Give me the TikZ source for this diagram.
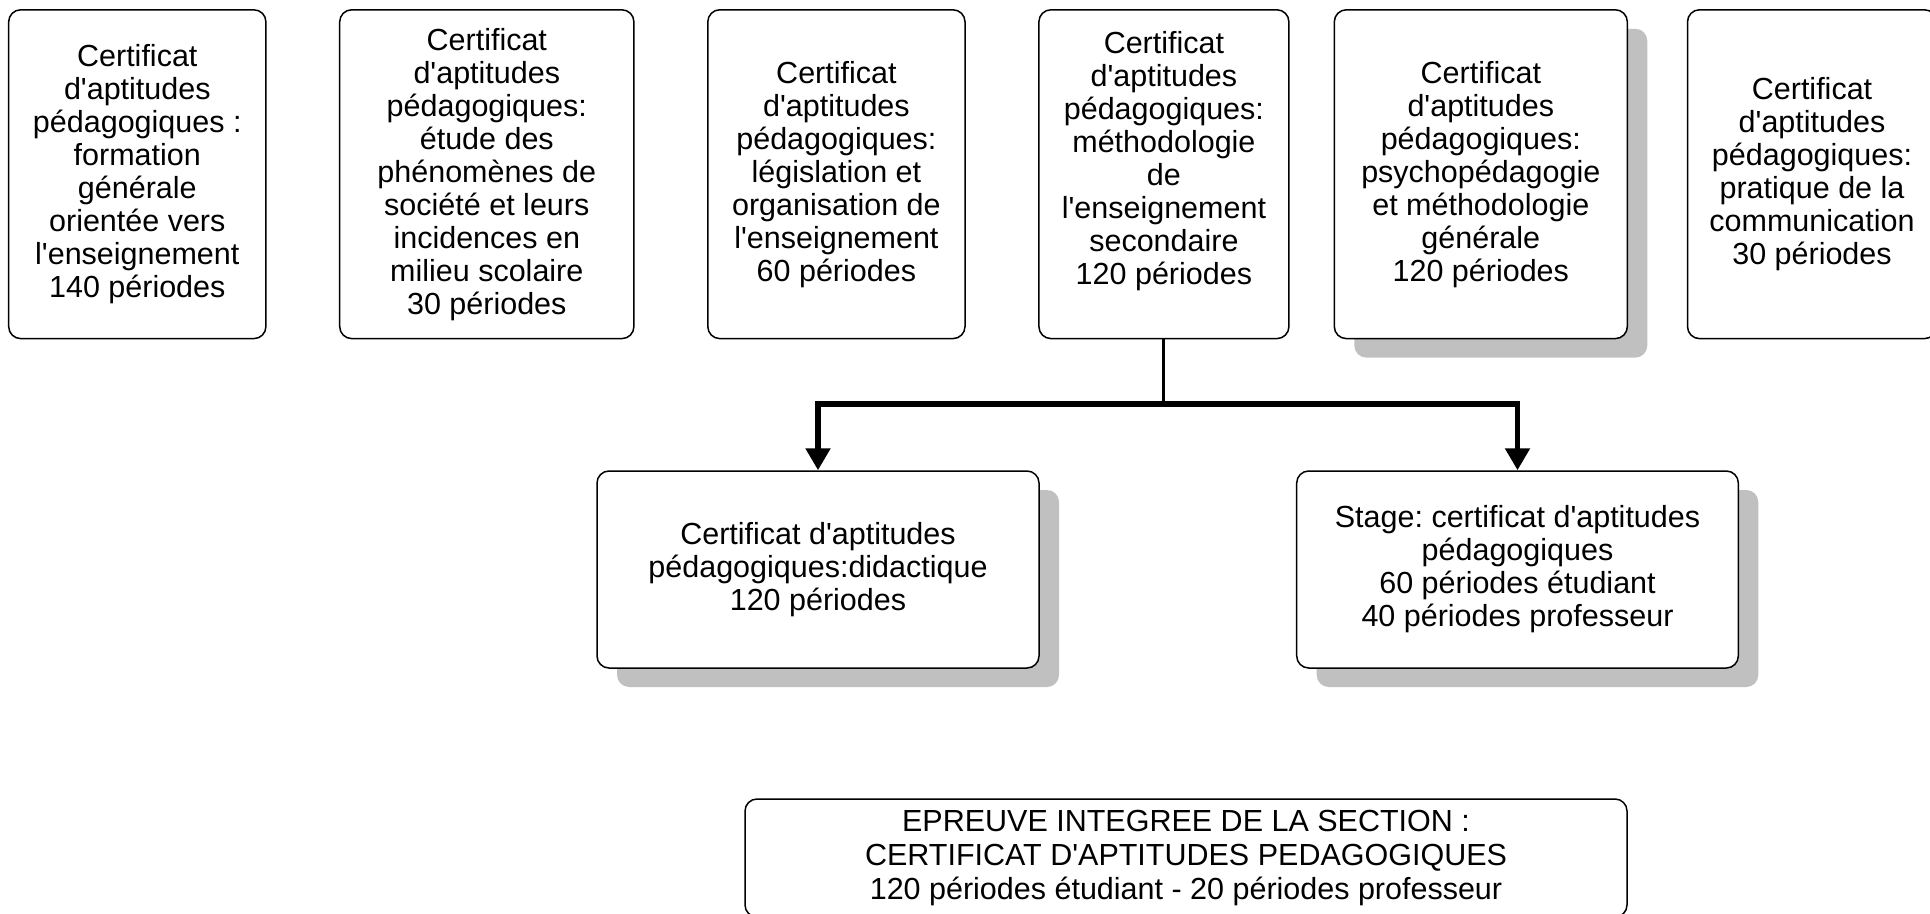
\documentclass[tikz,border=0pt]{standalone}
\usepackage{fontspec}
\setmainfont{Liberation Sans}
\usetikzlibrary{positioning}
\usetikzlibrary{arrows.meta}
\usetikzlibrary{shadows}
\frenchspacing
\newcommand{\ap}{\textquotesingle{}}

\definecolor{ombregris}{RGB}{192,192,192}
\tikzset{
  cours/.style={draw, fill=white, line width=0.75pt, rounded corners=6pt,
    align=center, inner sep=2pt, font=\fontsize{15.25pt}{16.5pt}\selectfont},
  ombre/.style={general shadow={fill=ombregris, draw=none,
    shadow xshift=10pt, shadow yshift=-9.5pt}},
  fleche/.style={line width=2.6pt, -{Triangle[width=12pt,length=11pt]}},
}

\begin{document}
\begin{tikzpicture}[x=0.5pt,y=-0.5pt]
\clip (0,0) rectangle (1930,914);
%top row - boxes
\node[cours, minimum width=128.6pt, minimum height=164.4pt] (form) at (137.3,174.2)
  {Certificat\\d\ap aptitudes\\pédagogiques :\\formation\\générale\\orientée vers\\l\ap enseignement\\140 périodes};
\node[cours, minimum width=147.1pt, minimum height=164.4pt] (soc) at (486.8,174.2)
  {Certificat\\d\ap aptitudes\\pédagogiques:\\étude des\\phénomènes de\\société et leurs\\incidences en\\milieu scolaire\\30 périodes};
\node[cours, minimum width=128.6pt, minimum height=164.4pt] (legis) at (836.4,174.2)
  {Certificat\\d\ap aptitudes\\pédagogiques:\\législation et\\organisation de\\l\ap enseignement\\60 périodes};
\node[cours, minimum width=125pt, minimum height=164.4pt] (meth) at (1163.9,174.2)
  {Certificat\\d\ap aptitudes\\pédagogiques:\\méthodologie\\de\\l\ap enseignement\\secondaire\\120 périodes\\\mbox{}};
\node[cours, ombre, minimum width=146.5pt, minimum height=164.4pt] (psy) at (1480.8,174.2)
  {Certificat\\d\ap aptitudes\\pédagogiques:\\psychopédagogie\\et méthodologie\\générale\\120 périodes};
\node[cours, minimum width=124.5pt, minimum height=164.4pt] (comm) at (1812,174.2)
  {Certificat\\d\ap aptitudes\\pédagogiques:\\pratique de la\\communication\\30 périodes};

%middle row - boxes
\node[cours, ombre, minimum width=221pt, minimum height=98.5pt] (dida) at (818,569.5)
  {Certificat d\ap aptitudes\\pédagogiques:didactique\\120 périodes};
\node[cours, ombre, minimum width=220.8pt, minimum height=98.5pt] (stage) at (1517.5,569.5)
  {Stage: certificat d\ap aptitudes\\pédagogiques\\60 périodes étudiant\\40 périodes professeur};

%bottom - box
\node[cours, font=\fontsize{15.25pt}{17pt}\selectfont, minimum width=441pt, minimum height=59pt]
  (epreuve) at (1186,858)
  {EPREUVE INTEGREE DE LA SECTION :\\CERTIFICAT D\ap APTITUDES PEDAGOGIQUES\\120 périodes étudiant - 20 périodes professeur};

%lines
\coordinate (jonc) at (1163.9,404);
\draw[line width=1.5pt] (meth.south) -- (jonc);   %meth--jonc
\draw[fleche] (jonc) -| (dida.north);            %jonc--dida
\draw[fleche] (jonc) -| (stage.north);           %jonc--stage
\end{tikzpicture}
\end{document}
